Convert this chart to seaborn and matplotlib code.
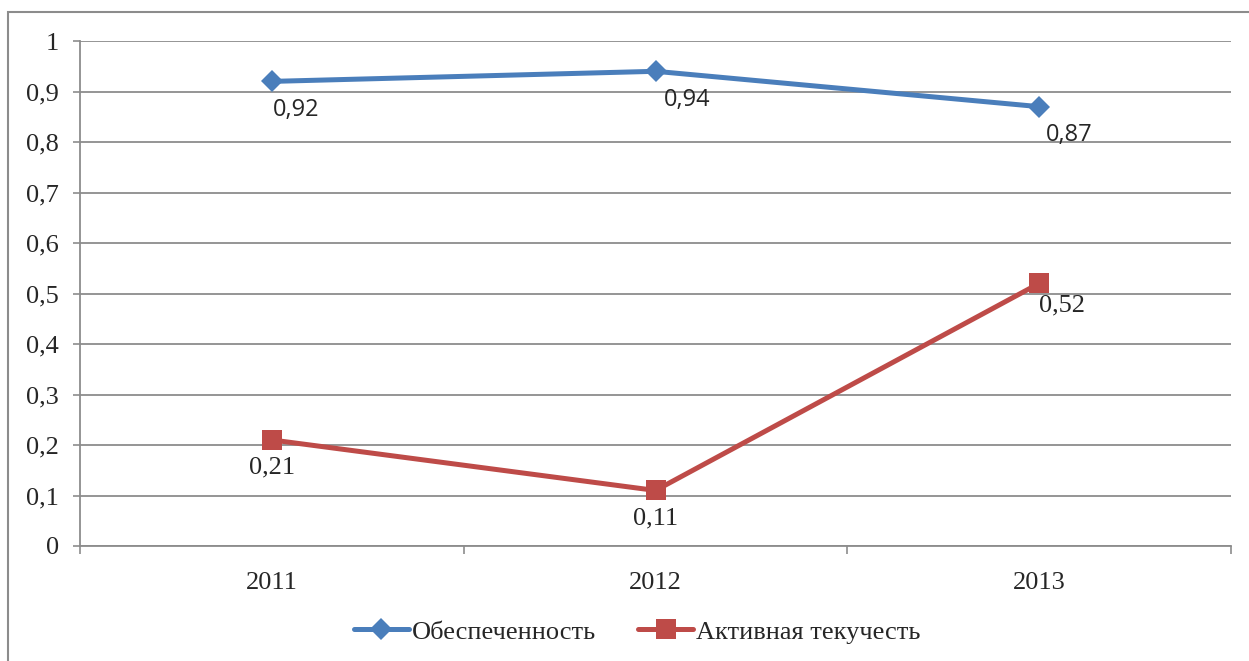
import matplotlib.pyplot as plt
import seaborn as sns
import pandas as pd
from matplotlib.patches import Rectangle

# Data
years = ["2011", "2012", "2013"]
supply = [0.92, 0.94, 0.87]        # Обеспеченность
turnover = [0.21, 0.11, 0.52]      # Активная текучесть
series_names = ["Обеспеченность", "Активная текучесть"]

df = pd.DataFrame({
    "pos": list(range(len(years))) * 2,
    "value": supply + turnover,
    "series": [series_names[0]] * len(years) + [series_names[1]] * len(years),
})

sns.set_style("white")
plt.rcParams["font.family"] = ["Liberation Serif", "DejaVu Serif"]

colors = {series_names[0]: "#4A7EBB", series_names[1]: "#BE4B48"}
markers = {series_names[0]: "D", series_names[1]: "s"}
msizes = {series_names[0]: 11, series_names[1]: 15}

fig = plt.figure(figsize=(12.49, 6.61), dpi=100)
ax = fig.add_axes([80 / 1249, 1 - 546 / 661, (1231 - 80) / 1249, (546 - 41) / 661])

for name in series_names:
    sub = df[df["series"] == name]
    sns.lineplot(data=sub, x="pos", y="value", ax=ax, color=colors[name],
                 marker=markers[name], markersize=msizes[name], linewidth=3.6,
                 markeredgewidth=0, label=name, zorder=3)

# value labels
blue_dx = [1, 6, 5]
for i, v in enumerate(supply):
    ax.annotate(f"{v:.2f}".replace(".", ","), (i, v), xytext=(blue_dx[i], -12),
                textcoords="offset points", ha="left", va="top",
                fontsize=17, family=["Open Sans", "DejaVu Sans"])
offsets = [(0, -12), (0, -12), (0, -8)]
has = ["center", "center", "left"]
for i, v in enumerate(turnover):
    ax.annotate(f"{v:.2f}".replace(".", ","), (i, v), xytext=offsets[i],
                textcoords="offset points", ha=has[i], va="top", fontsize=19)

ax.set_xlim(-0.5, 2.5)
ax.set_ylim(0, 1)
ax.set_yticks([i / 10 for i in range(11)])
ax.set_yticklabels(["0"] + [f"0,{i}" for i in range(1, 10)] + ["1"], fontsize=19)
ax.set_xticks(range(len(years)))
ax.set_xticklabels(years, fontsize=19)
ax.set_xticks([-0.5, 0.5, 1.5, 2.5], minor=True)
ax.tick_params(axis="x", which="major", length=0, pad=19, bottom=True)
ax.tick_params(axis="x", which="minor", length=6, width=1.2, color="#8C8C8C",
               direction="out", bottom=True)
ax.tick_params(axis="y", length=5, width=1.2, color="#8C8C8C", direction="out",
               pad=10, left=True)
ax.set_xlabel("")
ax.set_ylabel("")

ax.yaxis.grid(True, color="#8C8C8C", linewidth=1.3)
ax.set_axisbelow(True)
for s in ["top", "right"]:
    ax.spines[s].set_visible(False)
for s in ["left", "bottom"]:
    ax.spines[s].set_color("#8C8C8C")
    ax.spines[s].set_linewidth(1.3)

ax.legend(loc="upper center", bbox_to_anchor=(0.484, -0.1), ncol=2, frameon=False,
          fontsize=19, handlelength=2.1, handletextpad=0.1, columnspacing=1.6)

# outer chart frame
fig.patches.append(Rectangle((8 / 1249, -0.01), 1.0, 1 - 12 / 661 + 0.01,
                             transform=fig.transFigure, fill=False,
                             edgecolor="#8C8C8C", linewidth=1.5))

fig.savefig("out.png", dpi=100)
